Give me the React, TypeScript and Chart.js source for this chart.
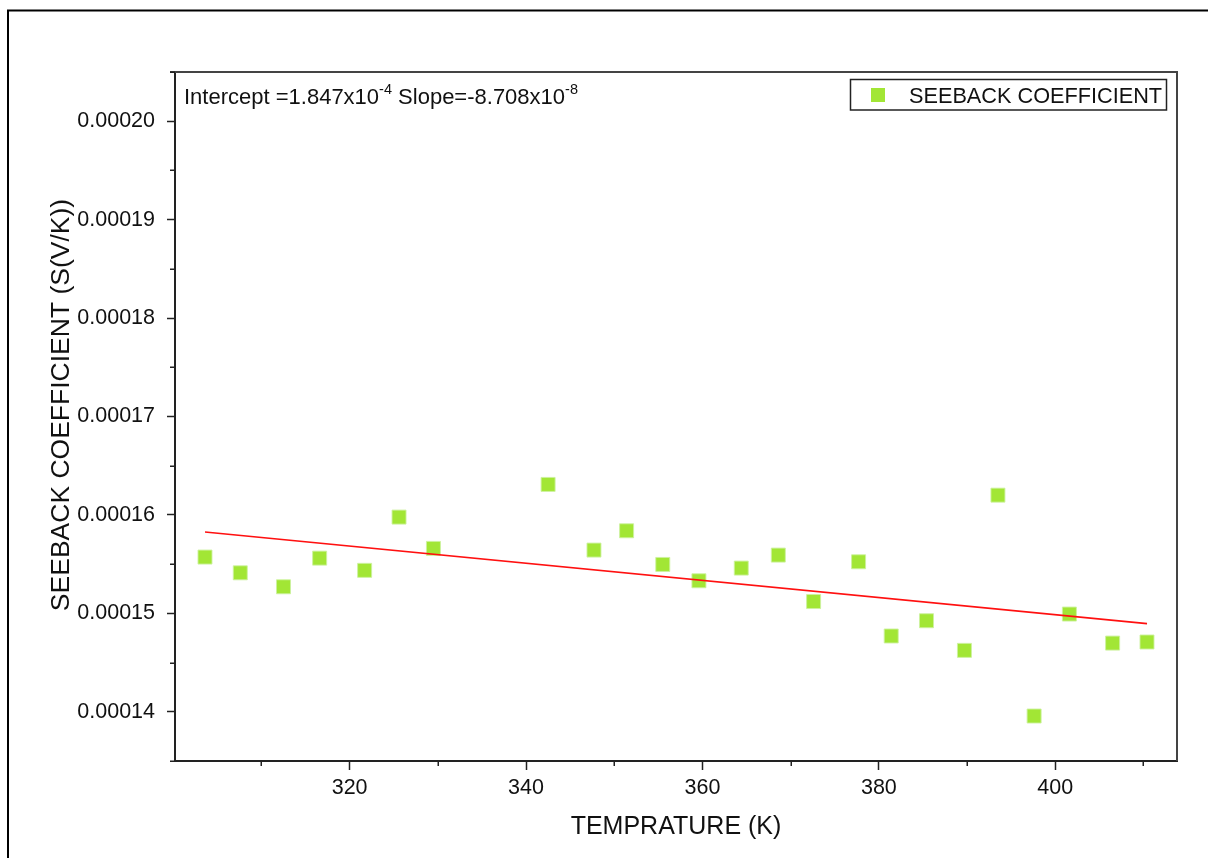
import React, { useEffect, useRef } from 'react';
import { Chart, registerables } from 'chart.js';

Chart.register(...registerables);

const FONT = '"Liberation Sans", Arial, sans-serif';

// Data
const temperature = [303.6, 307.6, 312.5, 316.6, 321.7, 325.6, 329.5, 342.5, 347.7, 351.4, 355.5, 359.6, 364.4, 368.6, 372.6, 377.7, 381.4, 385.4, 389.7, 393.5, 397.6, 401.6, 406.5, 410.4];
const seebeck = [1.5572e-4, 1.5412e-4, 1.527e-4, 1.5561e-4, 1.5437e-4, 1.5978e-4, 1.566e-4, 1.631e-4, 1.5643e-4, 1.5839e-4, 1.5497e-4, 1.5331e-4, 1.546e-4, 1.5592e-4, 1.512e-4, 1.5524e-4, 1.477e-4, 1.4925e-4, 1.4624e-4, 1.6201e-4, 1.3957e-4, 1.4993e-4, 1.4698e-4, 1.4709e-4];
const fitX = [303.6, 410.4];
const fitY = [1.5826e-4, 1.4896e-4];

const xMajorTicks = [320, 340, 360, 380, 400];
const xMinorTicks = [310, 330, 350, 370, 390, 410];
const yMajorTicks = [0.00014, 0.00015, 0.00016, 0.00017, 0.00018, 0.00019, 0.0002];
const yTickLabels = ['0.00014', '0.00015', '0.00016', '0.00017', '0.00018', '0.00019', '0.00020'];
const yMinorTicks = [0.000135, 0.000145, 0.000155, 0.000165, 0.000175, 0.000185, 0.000195, 0.000205];

const xTitle = 'TEMPRATURE (K)';
const yTitle = 'SEEBACK COEFFICIENT (S(V/K))';
const seriesName = 'SEEBACK COEFFICIENT';
const fitTextParts = ['Intercept =1.847x10', '-4', ' Slope=-8.708x10', '-8'];

const MARKER_COLOR = '#A2E635';

const decorPlugin = {
  id: 'decor',
  afterDraw(chart: any) {
    const { ctx, chartArea: a, scales } = chart;
    const xs = scales.x;
    const ys = scales.y;
    ctx.save();

    // outer figure frame (top + left visible)
    ctx.strokeStyle = '#000';
    ctx.lineWidth = 2;
    ctx.beginPath();
    ctx.moveTo(8, 858);
    ctx.lineTo(8, 10.5);
    ctx.lineTo(1208, 10.5);
    ctx.stroke();

    // top & right of plot box
    ctx.strokeStyle = '#444';
    ctx.lineWidth = 2;
    ctx.beginPath();
    ctx.moveTo(a.left - 5, a.top);
    ctx.lineTo(a.right, a.top);
    ctx.lineTo(a.right, a.bottom);
    ctx.stroke();

    // minor ticks
    ctx.strokeStyle = '#222';
    ctx.lineWidth = 1.5;
    ctx.beginPath();
    for (const v of xMinorTicks) {
      const px = Math.round(xs.getPixelForValue(v)) + 0.25;
      ctx.moveTo(px, a.bottom);
      ctx.lineTo(px, a.bottom + 5);
    }
    for (const v of yMinorTicks) {
      const py = Math.round(ys.getPixelForValue(v)) + 0.25;
      ctx.moveTo(a.left, py);
      ctx.lineTo(a.left - 5, py);
    }
    ctx.stroke();

    // axis titles
    ctx.fillStyle = '#111';
    ctx.textAlign = 'center';
    ctx.textBaseline = 'middle';
    ctx.font = `25px ${FONT}`;
    ctx.fillText(xTitle, (a.left + a.right) / 2, 827);
    ctx.save();
    ctx.translate(62, 405);
    ctx.rotate(-Math.PI / 2);
    ctx.font = `26.5px ${FONT}`;
    ctx.fillText(yTitle, 0, 0);
    ctx.restore();

    // fit annotation with superscripts
    ctx.textAlign = 'left';
    ctx.textBaseline = 'alphabetic';
    let tx = 184;
    const base = 103.5;
    fitTextParts.forEach((part, i) => {
      const sup = i % 2 === 1;
      ctx.font = sup ? `14.5px ${FONT}` : `22px ${FONT}`;
      ctx.fillText(part, tx, sup ? base - 10 : base);
      tx += ctx.measureText(part).width;
    });

    // legend
    ctx.strokeStyle = '#222';
    ctx.lineWidth = 1.5;
    ctx.strokeRect(850.5, 79.5, 316, 30.5);
    ctx.fillStyle = MARKER_COLOR;
    ctx.fillRect(871, 88, 14, 14);
    ctx.fillStyle = '#111';
    ctx.font = `21.7px ${FONT}`;
    ctx.fillText(seriesName, 909, 102.5);

    ctx.restore();
  },
};

export default function App() {
  const canvasRef = useRef<HTMLCanvasElement | null>(null);

  useEffect(() => {
    if (!canvasRef.current) return;
    Chart.defaults.font.family = FONT;
    const chart = new Chart(canvasRef.current, {
      type: 'scatter',
      data: {
        datasets: [
          {
            label: seriesName,
            data: temperature.map((t, i) => ({ x: t, y: seebeck[i] })),
            pointStyle: 'rect',
            pointRadius: 9.9,
            pointHoverRadius: 9.9,
            backgroundColor: MARKER_COLOR,
            borderColor: 'rgba(205,242,160,0.9)',
            borderWidth: 1,
            order: 2,
          },
          {
            type: 'line',
            label: 'Linear fit',
            data: fitX.map((t, i) => ({ x: t, y: fitY[i] })),
            borderColor: '#FF1010',
            borderWidth: 1.6,
            pointRadius: 0,
            fill: false,
            order: 1,
          } as any,
        ],
      },
      options: {
        animation: false,
        responsive: true,
        maintainAspectRatio: false,
        layout: { padding: { left: 0, top: 72, right: 31, bottom: 0 } },
        plugins: {
          legend: { display: false },
          tooltip: { enabled: false },
        },
        scales: {
          x: {
            type: 'linear',
            min: 300.2,
            max: 413.8,
            afterFit: (s: any) => { s.height = 97; },
            afterBuildTicks: (s: any) => { s.ticks = xMajorTicks.map((v) => ({ value: v })); },
            grid: { drawOnChartArea: false, tickLength: 9, tickColor: '#222', tickWidth: 1.5 },
            border: { display: true, color: '#222', width: 2 },
            ticks: {
              padding: 5,
              color: '#111',
              font: { size: 21.5 },
              callback: (v: any) => String(v),
            },
          },
          y: {
            type: 'linear',
            min: 0.000135,
            max: 0.000205,
            afterFit: (s: any) => { s.width = 175; },
            afterBuildTicks: (s: any) => { s.ticks = yMajorTicks.map((v) => ({ value: v })); },
            grid: { drawOnChartArea: false, tickLength: 8, tickColor: '#222', tickWidth: 1.5 },
            border: { display: true, color: '#222', width: 2 },
            ticks: {
              padding: 12,
              color: '#111',
              font: { size: 21.5 },
              callback: (v: any) => {
                const idx = yMajorTicks.findIndex((m) => Math.abs(m - Number(v)) < 1e-9);
                return idx >= 0 ? yTickLabels[idx] : '';
              },
            },
          },
        },
      },
      plugins: [decorPlugin],
    });
    return () => chart.destroy();
  }, []);

  return (
    <div style={{ position: 'fixed', left: 0, top: 0, width: 1208, height: 858, background: '#fff' }}>
      <canvas ref={canvasRef} />
    </div>
  );
}
